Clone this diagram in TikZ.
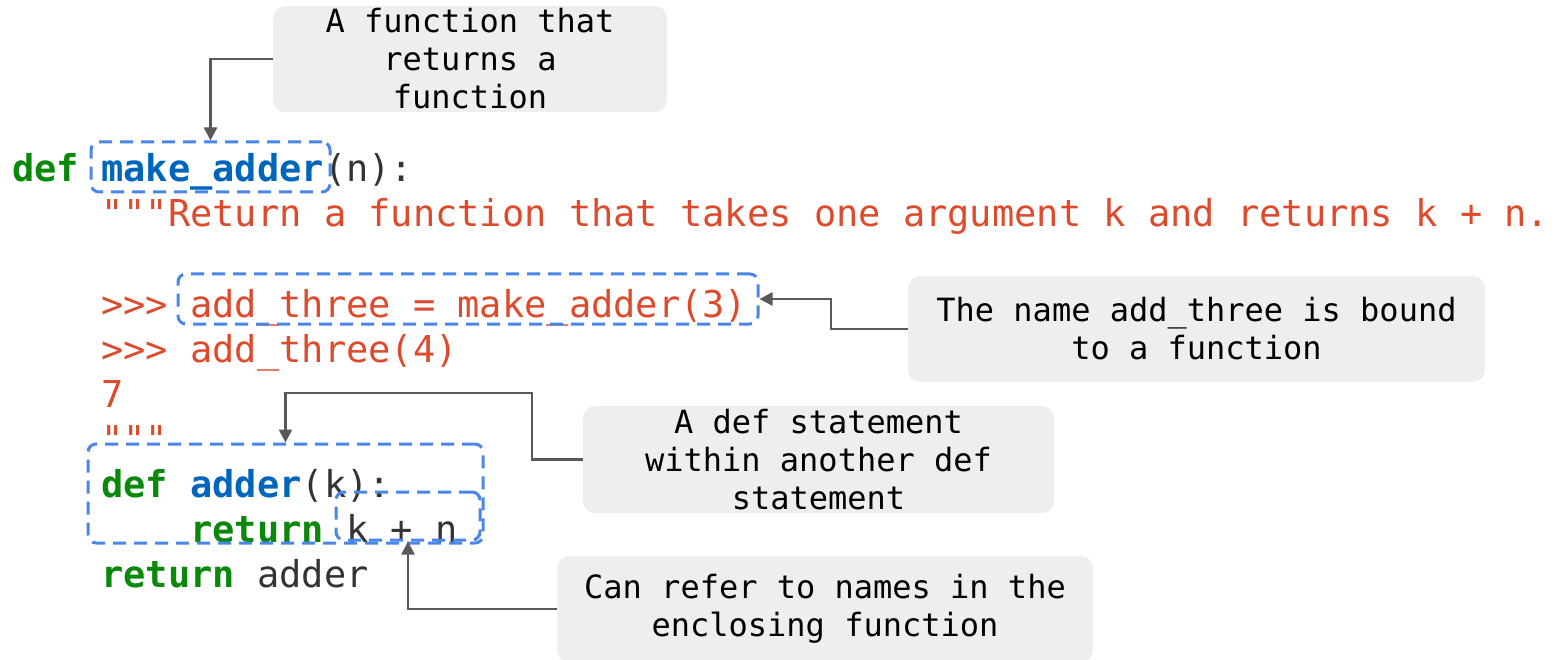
\documentclass[tikz,border=0pt]{standalone}
\usepackage{fontspec}
\newfontfamily\codefont{DejaVu Sans Mono}
\usetikzlibrary{arrows.meta,fit}

\definecolor{kwgreen}{RGB}{10,136,10}
\definecolor{fnblue}{RGB}{0,102,187}
\definecolor{strred}{RGB}{221,74,44}
\definecolor{codegrey}{RGB}{51,51,51}
\definecolor{hlblue}{RGB}{74,134,232}
\definecolor{notegrey}{RGB}{238,238,238}
\definecolor{arrowgrey}{RGB}{89,89,89}
\newcommand{\kw}[1]{{\bfseries\color{kwgreen}#1}}
\newcommand{\fn}[1]{{\bfseries\color{fnblue}#1}}

\begin{document}
\begin{tikzpicture}
  [x=1pt,y=-1pt,
   code/.style={anchor=base west,inner sep=0pt,text=codegrey,font=\codefont\fontsize{37}{45}\selectfont},
   doc/.style={code,text=strred},
   note/.style={fill=notegrey,rounded corners=12pt,align=center,inner sep=0pt,text=black,font=\codefont\fontsize{32}{38}\selectfont},
   hl/.style={draw=hlblue,line width=3pt,dash pattern=on 13pt off 8pt,rounded corners=8pt,inner sep=0pt},
   conn/.style={draw=arrowgrey,line width=2.5pt,-{Triangle[width=13pt,length=13pt]}}]
  \useasboundingbox (0,0) rectangle (1560,660);

  % callouts
  \node[note,minimum width=394pt,minimum height=106pt] (retnote) at (470,59) {A function that\\returns a\\function};
  \node[note,minimum width=577pt,minimum height=106pt] (boundnote) at (1196.5,329) {The name add\_three is bound\\to a function};
  \node[note,minimum width=471pt,minimum height=107pt] (nestnote) at (818.5,459.5) {A def statement\\within another def\\statement};
  \node[note,minimum width=536pt,minimum height=106pt] (scopenote) at (825,609) {Can refer to names in the\\enclosing function};

  % the code
  \node[code] (defline) at (12,182) {\kw{def} \fn{make\_adder}(n):};
  \node[doc] (docline) at (101.1,227) {"""Return a function that takes one argument k and returns k + n.};
  \node[doc] (ex1) at (101.1,317) {>>> add\_three = make\_adder(3)};
  \node[doc] (ex2) at (101.1,362) {>>> add\_three(4)};
  \node[doc] (ex3) at (101.1,407) {7};
  \node[doc] (docend) at (101.1,452) {"""};
  \node[code] (innerdef) at (101.1,497) {\kw{def} \fn{adder}(k):};
  \node[code] (innerret) at (190.2,542) {\kw{return} k + n};
  \node[code] (outerret) at (101.1,587) {\kw{return} adder};

  % dashed marks
  \node[hl,fit={(91,142) (330,192)}] (hlmake) {};
  \node[hl,fit={(178,274) (758,324)}] (hlthree) {};
  \node[hl,fit={(88,444) (483,543)}] (hldef) {};
  \node[hl,fit={(336,492) (480,540)}] (hlkn) {};

  % connectors
  \draw[conn] (retnote.west) -| (hlmake.north);
  \draw[conn] (boundnote.west) -- (831,329) |- (hlthree.east);
  \draw[conn] (nestnote.west) -- (532,459.5) -- (532,393) -| (hldef.north);
  \draw[conn] (scopenote.west) -| (hlkn.south);
\end{tikzpicture}
\end{document}
